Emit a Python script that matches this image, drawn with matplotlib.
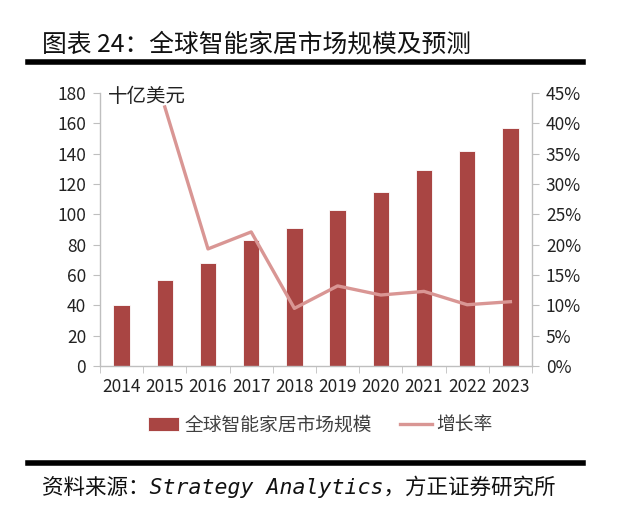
import matplotlib
matplotlib.use("Agg")
import matplotlib.pyplot as plt
import numpy as np
from matplotlib.ticker import FuncFormatter, FixedLocator

plt.rcParams['font.family'] = ['Noto Sans CJK SC', 'DejaVu Sans']

years = ["2014", "2015", "2016", "2017", "2018", "2019", "2020", "2021", "2022", "2023"]
market = [40, 57, 68, 83, 91, 103, 115, 129, 142, 157]
growth_years = ["2015", "2016", "2017", "2018", "2019", "2020", "2021", "2022", "2023"]
growth = [42.7, 19.3, 22.1, 9.5, 13.2, 11.7, 12.3, 10.1, 10.6]

title = "图表 24：全球智能家居市场规模及预测"
unit = "十亿美元"
bar_label = "全球智能家居市场规模"
line_label = "增长率"
source = "资料来源：Strategy Analytics，方正证券研究所"

W, H = 617, 511
fig = plt.figure(figsize=(W / 100, H / 100), dpi=100)

ax_l, ax_r, ax_t, ax_b = 100, 532, 93, 366
ax = fig.add_axes([ax_l / W, 1 - ax_b / H, (ax_r - ax_l) / W, (ax_b - ax_t) / H])
ax2 = ax.twinx()

x = np.arange(len(years))
bars = ax.bar(x, market, width=0.38, color="#A94543", edgecolor="white", linewidth=0.6,
              label=bar_label, zorder=2)
gx = [years.index(y) for y in growth_years]
line, = ax2.plot(gx, growth, color="#D99694", linewidth=2.4, label=line_label, zorder=3)

ax.set_xlim(-0.5, len(years) - 0.5)
ax.set_ylim(0, 180)
ax.set_yticks(np.arange(0, 181, 20))
ax2.set_ylim(0, 45)
ax2.set_yticks(np.arange(0, 46, 5))
ax2.yaxis.set_major_formatter(FuncFormatter(lambda v, p: f"{int(v)}%"))

ax.set_xticks(x)
ax.set_xticklabels(years)
ax.xaxis.set_minor_locator(FixedLocator(np.arange(-0.5, len(years), 1.0)))
ax.tick_params(axis="x", which="major", length=0, pad=9, labelsize=12.5)
ax.tick_params(axis="x", which="minor", length=5, color="#BFBFBF", direction="out")
ax.tick_params(axis="y", length=5, color="#BFBFBF", labelsize=12.5, pad=5)
ax2.tick_params(axis="y", length=5, color="#BFBFBF", labelsize=12.5, pad=5)
for lab in ax.get_yticklabels() + ax2.get_yticklabels() + ax.get_xticklabels():
    lab.set_color("#222222")
for a in (ax, ax2):
    a.spines["top"].set_visible(False)
    for s in ("left", "right", "bottom"):
        a.spines[s].set_color("#BFBFBF")
        a.spines[s].set_linewidth(1.0)
ax.spines["right"].set_visible(False)
ax2.spines["left"].set_visible(False)
ax2.spines["bottom"].set_visible(False)
ax2.patch.set_visible(False)

fig.text(108 / W, 1 - 96 / H, unit, fontsize=14, color="#222222", va="center", ha="left")

fig.text(42 / W, 1 - 45 / H, title, fontsize=17.8, va="center", ha="left",
         color="#111111")
fig.add_artist(plt.Line2D([28 / W, 583 / W], [1 - 62 / H, 1 - 62 / H], color="black", linewidth=4))
fig.add_artist(plt.Line2D([28 / W, 583 / W], [1 - 463 / H, 1 - 463 / H], color="black", linewidth=4))

fig.legend(handles=[bars, line], labels=[bar_label, line_label], loc="center",
           bbox_to_anchor=(320 / W, 1 - 425 / H), ncol=2, frameon=False, fontsize=13.5,
           handlelength=1.7, columnspacing=1.5, handletextpad=0.25, labelcolor="#404040")

fig.text(42 / W, 1 - 487 / H, source, fontsize=15.5, style="italic", va="center", ha="left",
         family=["DejaVu Sans Mono", "Noto Sans CJK SC"], color="#111111")

fig.savefig("out.png", dpi=100)
